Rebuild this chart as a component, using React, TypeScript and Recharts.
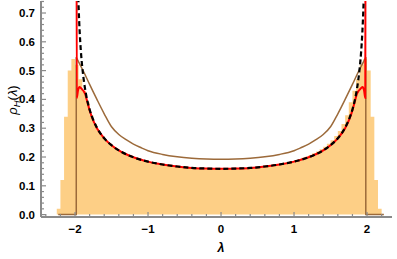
import React from 'react';
import { ComposedChart, Area, Line, XAxis, YAxis } from 'recharts';

// Histogram (bin start, bin width, heights)
const histStart = -2.25;
const histBinWidth = 0.05;
const histHeights = [
  0.02, 0.12, 0.34, 0.5, 0.54, 0.52, 0.47, 0.43, 0.39, 0.345, 0.315,
  0.29, 0.273, 0.258, 0.246, 0.236, 0.227, 0.219, 0.213, 0.207, 0.201, 0.197, 0.193, 0.189, 0.185, 0.182,
  0.18, 0.177, 0.175, 0.173, 0.171, 0.169, 0.168, 0.166, 0.165, 0.164, 0.163, 0.162, 0.161, 0.161, 0.16,
  0.16, 0.159, 0.159, 0.159,
  0.159, 0.159, 0.16, 0.16, 0.161, 0.161, 0.162, 0.163, 0.164, 0.165, 0.166, 0.168, 0.169, 0.171, 0.173,
  0.175, 0.177, 0.18, 0.182, 0.185, 0.189, 0.193, 0.197, 0.201, 0.207, 0.213, 0.219, 0.227, 0.236, 0.246,
  0.258, 0.273, 0.29,
  0.315, 0.345, 0.39, 0.43, 0.47, 0.52, 0.54, 0.5, 0.34, 0.12, 0.02,
];

// Black dashed curve
const dashedX = [
  -1.97, -1.96, -1.95, -1.935, -1.92, -1.9, -1.88, -1.85, -1.8, -1.75, -1.7, -1.6, -1.5, -1.4, -1.2, -1.0, -0.8, -0.6, -0.4, -0.2, 0,
  0.2, 0.4, 0.6, 0.8, 1.0, 1.2, 1.4, 1.5, 1.6, 1.7, 1.75, 1.8, 1.85, 1.88, 1.9, 1.92, 1.935, 1.95, 1.96, 1.97,
];
const dashedY = [
  0.922, 0.8, 0.716, 0.629, 0.568, 0.51, 0.467, 0.419, 0.365, 0.329, 0.302, 0.265, 0.241, 0.223, 0.199, 0.184, 0.174, 0.167, 0.162, 0.16, 0.159,
  0.16, 0.162, 0.167, 0.174, 0.184, 0.199, 0.223, 0.241, 0.265, 0.302, 0.329, 0.365, 0.419, 0.467, 0.51, 0.568, 0.629, 0.716, 0.8, 0.922,
];

// Red curve
const redX = [
  -1.979, -1.976, -1.96, -1.94, -1.92, -1.9, -1.88, -1.86, -1.83, -1.8, -1.75, -1.7, -1.6, -1.5, -1.4, -1.2, -1.0, -0.8, -0.6, -0.4, -0.2, 0,
  0.2, 0.4, 0.6, 0.8, 1.0, 1.2, 1.4, 1.5, 1.6, 1.7, 1.75, 1.8, 1.83, 1.86, 1.88, 1.9, 1.92, 1.94, 1.96, 1.976, 1.979,
];
const redY = [
  0.95, 0.405, 0.43, 0.443, 0.44, 0.434, 0.428, 0.418, 0.39, 0.362, 0.326, 0.3, 0.265, 0.241, 0.223, 0.199, 0.184, 0.174, 0.167, 0.162, 0.16, 0.159,
  0.16, 0.162, 0.167, 0.174, 0.184, 0.199, 0.223, 0.241, 0.265, 0.3, 0.326, 0.362, 0.39, 0.418, 0.428, 0.434, 0.44, 0.443, 0.43, 0.405, 0.95,
];

// Brown curve (smooth part) and its two edge steps
const brownX = [
  -1.983, -1.93, -1.87, -1.8, -1.7, -1.6, -1.5, -1.4, -1.3, -1.2, -1.1, -1.0, -0.8, -0.6, -0.4, -0.2, 0,
  0.2, 0.4, 0.6, 0.8, 1.0, 1.1, 1.2, 1.3, 1.4, 1.5, 1.6, 1.7, 1.8, 1.87, 1.93, 1.983,
];
const brownY = [
  0.546, 0.52, 0.49, 0.452, 0.4, 0.35, 0.305, 0.278, 0.26, 0.245, 0.233, 0.222, 0.209, 0.201, 0.196, 0.193, 0.192,
  0.193, 0.196, 0.201, 0.209, 0.222, 0.233, 0.245, 0.26, 0.278, 0.305, 0.35, 0.4, 0.452, 0.49, 0.52, 0.546,
];
const brownLeftStepX = [-2.23, -1.983, -1.983];
const brownLeftStepY = [0, 0, 0.546];
const brownRightStepX = [1.983, 1.983, 2.23];
const brownRightStepY = [0.546, 0, 0];

const xMajorTicks = [-2, -1, 0, 1, 2];
const xMinorStep = 0.2;
const yMajorTicks = [0, 0.1, 0.2, 0.3, 0.4, 0.5, 0.6, 0.7];
const yMinorStep = 0.02;

const X_DOMAIN: [number, number] = [-2.466, 2.342];
const Y_DOMAIN: [number, number] = [-0.0083, 0.7417];

const frameColor = '#8a8a8a';
const brownColor = '#9C6A3A';
const fontFamily = '"Liberation Sans", Arial, sans-serif';

const histData = histHeights
  .map((h, i) => ({ x: +(histStart + i * histBinWidth).toFixed(3), y: h }))
  .concat([{ x: +(histStart + histHeights.length * histBinWidth).toFixed(3), y: 0 }]);
const zip = (xs: number[], ys: number[]) => xs.map((x, i) => ({ x, y: ys[i] }));
const dashedData = zip(dashedX, dashedY);
const redData = zip(redX, redY);
const brownData = zip(brownX, brownY);
const brownLeftData = zip(brownLeftStepX, brownLeftStepY);
const brownRightData = zip(brownRightStepX, brownRightStepY);

function withMinor(lo: number, hi: number, step: number) {
  const out: number[] = [];
  const n = Math.floor((hi - lo) / step + 1e-9);
  for (let i = 0; i <= n; i++) out.push(+(lo + i * step).toFixed(4));
  return out;
}
const xTicks = withMinor(-2.4, 2.3, xMinorStep);
const yTicks = withMinor(0, 0.74, yMinorStep);

const isXMajor = (v: number) => xMajorTicks.some((m) => Math.abs(m - v) < 1e-6);
const isYMajor = (v: number) => yMajorTicks.some((m) => Math.abs(m - v) < 1e-6);

const fmtX = (v: number) => (v < 0 ? '\u2212' + Math.abs(v) : String(v));

const BottomTick = (props: any) => {
  const { x, y, payload } = props;
  const major = isXMajor(payload.value);
  return (
    <g>
      <line x1={x} x2={x} y1={y} y2={y - (major ? 5 : 3)} stroke={frameColor} strokeWidth={1.2} />
      {major && (
        <text x={x} y={y + 16} textAnchor="middle" fontFamily={fontFamily} fontWeight="bold" fontSize={11.5} fill="#000">
          {fmtX(payload.value)}
        </text>
      )}
    </g>
  );
};
const TopTick = (props: any) => {
  const { x, y, payload } = props;
  const major = isXMajor(payload.value);
  return <line x1={x} x2={x} y1={y} y2={y + (major ? 5 : 3)} stroke={frameColor} strokeWidth={1.2} />;
};
const LeftTick = (props: any) => {
  const { x, y, payload } = props;
  const major = isYMajor(payload.value);
  return (
    <g>
      <line x1={x} x2={x + (major ? 5 : 3)} y1={y} y2={y} stroke={frameColor} strokeWidth={1.2} />
      {major && (
        <text x={x - 6} y={y + 4} textAnchor="end" fontFamily={fontFamily} fontWeight="bold" fontSize={11.5} fill="#000">
          {payload.value.toFixed(1)}
        </text>
      )}
    </g>
  );
};
const RightTick = (props: any) => {
  const { x, y, payload } = props;
  const major = isYMajor(payload.value);
  return <line x1={x} x2={x - (major ? 5 : 3)} y1={y} y2={y} stroke={frameColor} strokeWidth={1.2} />;
};

const XLabel = () => (
  <text x={221} y={252} textAnchor="middle" fontFamily={fontFamily} fontWeight="bold" fontStyle="italic" fontSize={12.5} fill="#000">
    λ
  </text>
);
const YLabel = () => (
  <text transform="translate(17,100) rotate(-90)" textAnchor="middle" fontFamily={fontFamily} fontSize={13} fill="#000">
    <tspan fontStyle="italic">ρ</tspan>
    <tspan fontStyle="italic" fontSize={9.5} dy={3}>H</tspan>
    <tspan dy={-3}>(</tspan>
    <tspan fontStyle="italic">λ</tspan>
    <tspan>)</tspan>
  </text>
);

const lineCommon = {
  xAxisId: 'b',
  yAxisId: 'l',
  dataKey: 'y',
  dot: false,
  activeDot: false,
  isAnimationActive: false,
};

export default function App() {
  return (
    <div style={{ position: 'absolute', left: 0, top: 0, width: 397, height: 259, background: '#fff' }}>
      <ComposedChart width={397} height={259} margin={{ top: 1, right: 5, bottom: 0, left: 0 }}>
        <XAxis
          xAxisId="b"
          type="number"
          dataKey="x"
          domain={X_DOMAIN}
          allowDataOverflow
          ticks={xTicks}
          interval={0}
          tickSize={0}
          tickMargin={0}
          height={42}
          axisLine={{ stroke: frameColor, strokeWidth: 2 }}
          tickLine={false}
          tick={BottomTick}
          label={<XLabel />}
        />
        <XAxis
          xAxisId="t"
          orientation="top"
          type="number"
          dataKey="x"
          domain={X_DOMAIN}
          allowDataOverflow
          ticks={xTicks}
          interval={0}
          tickSize={0}
          tickMargin={0}
          height={0}
          axisLine={{ stroke: frameColor, strokeWidth: 2 }}
          tickLine={false}
          tick={TopTick}
        />
        <YAxis
          yAxisId="l"
          type="number"
          domain={Y_DOMAIN}
          allowDataOverflow
          ticks={yTicks}
          interval={0}
          tickSize={0}
          tickMargin={0}
          width={41}
          axisLine={{ stroke: frameColor, strokeWidth: 2 }}
          tickLine={false}
          tick={LeftTick}
          label={<YLabel />}
        />
        <YAxis
          yAxisId="r"
          orientation="right"
          type="number"
          domain={Y_DOMAIN}
          allowDataOverflow
          ticks={yTicks}
          interval={0}
          tickSize={0}
          tickMargin={0}
          width={0}
          axisLine={{ stroke: frameColor, strokeWidth: 2 }}
          tickLine={false}
          tick={RightTick}
        />
        <Area
          xAxisId="b"
          yAxisId="l"
          data={histData}
          dataKey="y"
          type="stepAfter"
          baseValue={0}
          stroke="none"
          fill="#FDCF86"
          fillOpacity={1}
          isAnimationActive={false}
          dot={false}
          activeDot={false}
        />
        <Line {...lineCommon} data={brownLeftData} type="linear" stroke={brownColor} strokeWidth={1.5} />
        <Line {...lineCommon} data={brownRightData} type="linear" stroke={brownColor} strokeWidth={1.5} />
        <Line {...lineCommon} data={brownData} type="monotone" stroke={brownColor} strokeWidth={1.5} />
        <Line {...lineCommon} data={redData} type="monotone" stroke="#FF0000" strokeWidth={2} />
        <Line {...lineCommon} data={dashedData} type="monotone" stroke="#000" strokeWidth={2.2} strokeDasharray="5 3" />
      </ComposedChart>
    </div>
  );
}
